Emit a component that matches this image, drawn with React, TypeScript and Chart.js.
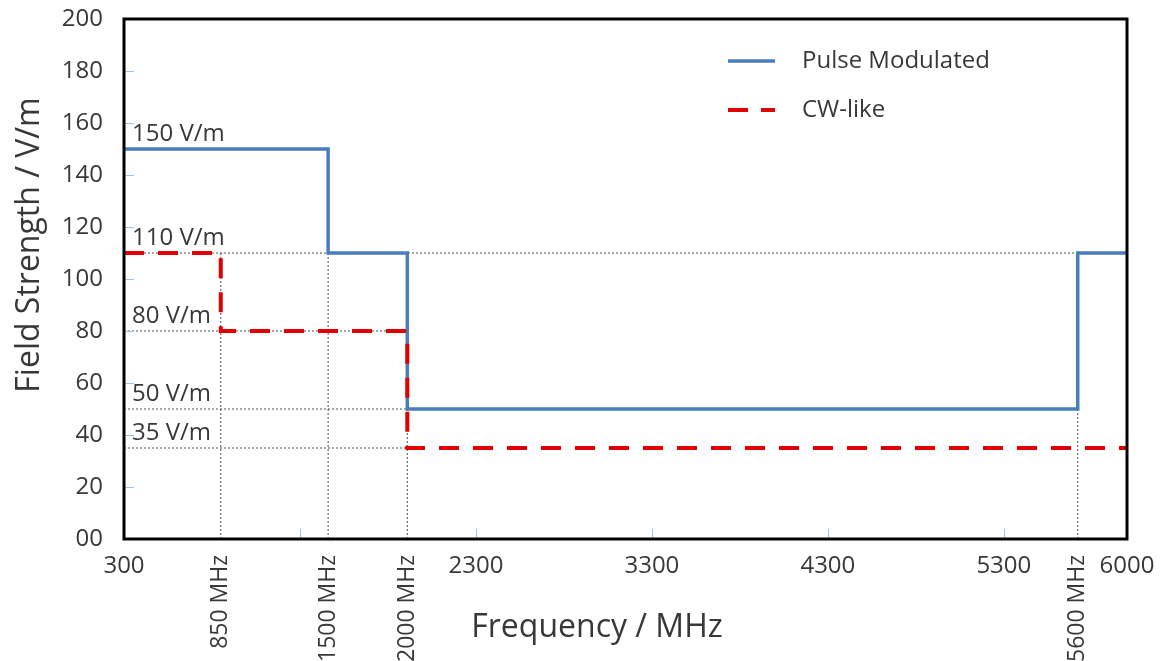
import React, { useEffect, useRef } from 'react';
import { Chart, registerables } from 'chart.js';

Chart.register(...registerables);

// ---------- data ----------
const xMin = 300;
const xMax = 6000;
const yMin = 0;
const yMax = 200;
const yStep = 20;

const xTickValues = [300, 1300, 2300, 3300, 4300, 5300, 6000];
const xTickLabels = ['300', '', '2300', '3300', '4300', '5300', '6000'];

// step series (frequency where a level starts, level in V/m)
const pulseFreqs = [300, 1460, 1910, 5720, 6000];
const pulseLevels = [150, 110, 50, 110, 110];
const cwFreqs = [300, 850, 1910, 6000];
const cwLevels = [110, 80, 35, 35];

// vertical guide lines with rotated labels
const markerFreqs = [850, 1460, 1910, 5720];
const markerLabels = ['850 MHz', '1500 MHz', '2000 MHz', '5600 MHz'];
const markerTops = [110, 150, 110, 50];

// horizontal guide lines with level labels
const levelValues = [150, 110, 80, 50, 35];
const levelLabels = ['150 V/m', '110 V/m', '80 V/m', '50 V/m', '35 V/m'];
const levelEnds = [1460, 6000, 1910, 1910, 1910];

const seriesNames = ['Pulse Modulated', 'CW-like'];
const xTitle = 'Frequency / MHz';
const yTitle = 'Field Strength / V/m';

// ---------- styles ----------
const FONT = "'Open Sans', 'DejaVu Sans', sans-serif";
const TEXT = '#383838';
const BLUE = '#4a7ebb';
const RED = '#e20000';
const GUIDE = '#505050';
const RED_DASH = [20, 14];

const W = 1171;
const H = 661;

const overlayPlugin = {
  id: 'overlay',
  afterDatasetsDraw(chart: any) {
    const { ctx, chartArea: a, scales } = chart;
    const xs = scales.x;
    const ys = scales.y;
    ctx.save();

    // inner tick marks
    ctx.strokeStyle = '#9cc0e4';
    ctx.lineWidth = 1;
    for (let v = yMin + yStep; v < yMax; v += yStep) {
      const y = Math.round(ys.getPixelForValue(v)) + 0.5;
      ctx.beginPath();
      ctx.moveTo(a.left, y);
      ctx.lineTo(a.left + 10, y);
      ctx.stroke();
    }
    xTickValues.forEach((v) => {
      if (v === xMin || v === xMax) return;
      const x = Math.round(xs.getPixelForValue(v)) + 0.5;
      ctx.beginPath();
      ctx.moveTo(x, a.bottom);
      ctx.lineTo(x, a.bottom - 10);
      ctx.stroke();
    });

    // frame
    ctx.strokeStyle = '#000';
    ctx.lineWidth = 3;
    ctx.strokeRect(a.left, a.top, a.right - a.left, a.bottom - a.top);

    // level labels
    ctx.fillStyle = TEXT;
    ctx.font = `24px ${FONT}`;
    ctx.textAlign = 'left';
    ctx.textBaseline = 'alphabetic';
    levelValues.forEach((v, i) => {
      ctx.fillText(levelLabels[i], a.left + 8, ys.getPixelForValue(v) - 8);
    });

    // rotated marker labels
    ctx.font = `23px ${FONT}`;
    markerFreqs.forEach((f, i) => {
      const x = xs.getPixelForValue(f);
      ctx.save();
      ctx.translate(x, a.bottom + 16);
      ctx.rotate(-Math.PI / 2);
      ctx.textAlign = 'right';
      ctx.textBaseline = 'middle';
      ctx.fillText(markerLabels[i], 0, 0);
      ctx.restore();
    });

    // legend
    const lx = 728;
    const lw = 47;
    const ly = [61, 110];
    ctx.lineCap = 'butt';
    ctx.strokeStyle = BLUE;
    ctx.lineWidth = 3.5;
    ctx.setLineDash([]);
    ctx.beginPath();
    ctx.moveTo(lx, ly[0]);
    ctx.lineTo(lx + lw, ly[0]);
    ctx.stroke();
    ctx.strokeStyle = RED;
    ctx.lineWidth = 4;
    ctx.setLineDash([20, 13]);
    ctx.beginPath();
    ctx.moveTo(lx, ly[1]);
    ctx.lineTo(lx + lw, ly[1]);
    ctx.stroke();
    ctx.setLineDash([]);
    ctx.fillStyle = TEXT;
    ctx.font = `24px ${FONT}`;
    ctx.textAlign = 'left';
    ctx.textBaseline = 'middle';
    seriesNames.forEach((n, i) => ctx.fillText(n, 802, ly[i]));

    // axis titles
    ctx.font = `32px ${FONT}`;
    ctx.textAlign = 'center';
    ctx.textBaseline = 'middle';
    ctx.fillText(xTitle, 597, 628);
    ctx.save();
    ctx.translate(30, 245);
    ctx.rotate(-Math.PI / 2);
    ctx.fillText(yTitle, 0, 0);
    ctx.restore();

    ctx.restore();
  },
};

export default function App() {
  const ref = useRef<HTMLCanvasElement>(null);

  useEffect(() => {
    document.body.style.margin = '0';
    const canvas = ref.current;
    if (!canvas) return;

    const guideSets: any[] = [];
    markerFreqs.forEach((f, i) => {
      guideSets.push({
        label: 'v' + i,
        data: [
          { x: f, y: yMin },
          { x: f, y: markerTops[i] },
        ],
        borderColor: GUIDE,
        borderWidth: 1,
        borderDash: [2, 2],
        pointRadius: 0,
        order: 10,
      });
    });
    levelValues.forEach((v, i) => {
      guideSets.push({
        label: 'h' + i,
        data: [
          { x: xMin, y: v },
          { x: levelEnds[i], y: v },
        ],
        borderColor: GUIDE,
        borderWidth: 1,
        borderDash: [2, 2],
        pointRadius: 0,
        order: 10,
      });
    });

    const chart = new Chart(canvas, {
      type: 'line',
      data: {
        datasets: [
          {
            label: seriesNames[0],
            data: pulseFreqs.map((f, i) => ({ x: f, y: pulseLevels[i] })),
            borderColor: BLUE,
            borderWidth: 3.5,
            stepped: 'before',
            pointRadius: 0,
            order: 2,
          },
          {
            label: seriesNames[1],
            data: cwFreqs.map((f, i) => ({ x: f, y: cwLevels[i] })),
            borderColor: RED,
            borderWidth: 4,
            borderDash: RED_DASH,
            stepped: 'before',
            pointRadius: 0,
            order: 1,
          },
          ...guideSets,
        ],
      },
      options: {
        responsive: false,
        animation: false,
        events: [],
        layout: { padding: { top: 19, right: 44, bottom: 0, left: 0 } },
        plugins: {
          legend: { display: false },
          tooltip: { enabled: false },
          title: { display: false },
        },
        scales: {
          x: {
            type: 'linear',
            min: xMin,
            max: xMax,
            afterBuildTicks: (s: any) => {
              s.ticks = xTickValues.map((value) => ({ value }));
            },
            afterFit: (s: any) => {
              s.height = 122;
              s.paddingLeft = 0;
              s.paddingRight = 0;
            },
            ticks: {
              autoSkip: false,
              maxRotation: 0,
              minRotation: 0,
              padding: 13,
              color: TEXT,
              font: { family: FONT, size: 24 },
              callback: (v: any) => {
                const i = xTickValues.indexOf(Number(v));
                return i >= 0 ? xTickLabels[i] : '';
              },
            },
            grid: { display: false, drawTicks: false },
            border: { display: false },
          },
          y: {
            min: yMin,
            max: yMax,
            afterFit: (s: any) => {
              s.width = 124;
              s.paddingTop = 0;
              s.paddingBottom = 0;
            },
            ticks: {
              stepSize: yStep,
              padding: 21,
              color: TEXT,
              font: { family: FONT, size: 24 },
              callback: (v: any) => (Number(v) === 0 ? '00' : String(v)),
            },
            grid: { display: false, drawTicks: false },
            border: { display: false },
          },
        },
      },
      plugins: [overlayPlugin],
    } as any);

    return () => chart.destroy();
  }, []);

  return (
    <div style={{ width: W, height: H }}>
      <canvas ref={ref} width={W} height={H} style={{ display: 'block' }} />
    </div>
  );
}
